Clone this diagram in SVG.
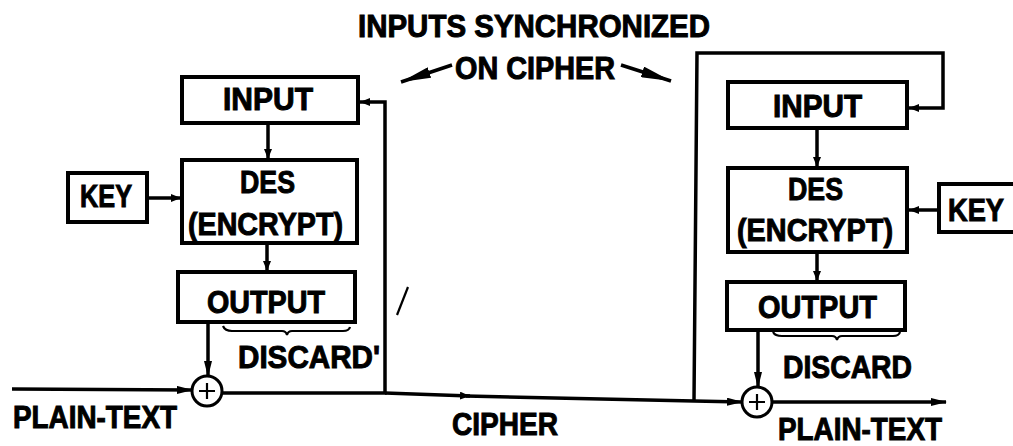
<svg xmlns="http://www.w3.org/2000/svg" width="1013" height="446" viewBox="0 0 1013 446">
<style>
.box{fill:#fff;stroke:#000;stroke-width:4}
.ln{fill:none;stroke:#000;stroke-width:3.5}
.thin{fill:none;stroke:#000;stroke-width:2.2}
.t{font-family:"Liberation Sans",Arial,sans-serif;font-weight:bold;font-size:32px;fill:#000;stroke:#000;stroke-width:1}
</style>
<defs>
<marker id="ah" viewBox="0 0 16 8" refX="15" refY="4" markerWidth="16" markerHeight="8" markerUnits="userSpaceOnUse" orient="auto"><path d="M0,0 L16,4 L0,8 Z" fill="#000"/></marker>
<marker id="as" viewBox="0 0 10 8" refX="10" refY="4" markerWidth="10" markerHeight="8" markerUnits="userSpaceOnUse" orient="auto"><path d="M0,0 L10,4 L0,8 Z" fill="#000"/></marker>
<marker id="al" viewBox="0 0 30 11" refX="30" refY="5.5" markerWidth="30" markerHeight="11" markerUnits="userSpaceOnUse" orient="auto"><path d="M0,0 L30,5.5 L0,11 Z" fill="#000"/></marker>
</defs>

<g id="label-sync">
<text class="t" x="358" y="37" textLength="352" lengthAdjust="spacingAndGlyphs">INPUTS SYNCHRONIZED</text>
<text class="t" x="455" y="79" textLength="160" lengthAdjust="spacingAndGlyphs">ON CIPHER</text>
<line class="ln" x1="452" y1="65" x2="401" y2="82" marker-end="url(#al)"/>
<line class="ln" x1="621" y1="65" x2="671" y2="81" marker-end="url(#al)"/>
</g>

<g id="connectors">
<line class="ln" x1="147" y1="198" x2="181" y2="198" marker-end="url(#as)"/>
<line class="ln" x1="268" y1="123" x2="268" y2="159" marker-end="url(#as)"/>
<line class="ln" x1="267" y1="243" x2="267" y2="271" marker-end="url(#as)"/>
<line class="ln" x1="208" y1="322" x2="208" y2="376" marker-end="url(#ah)"/>
<line class="ln" x1="12" y1="389" x2="192" y2="390" marker-end="url(#ah)"/>
<path class="ln" d="M222,393 L385,393 L385,102 L360,102" marker-end="url(#as)"/>
<path class="ln" d="M385,393 L470,396" marker-end="url(#as)"/>
<path class="ln" d="M466,396 L694,401 L742,402" marker-end="url(#ah)"/>
<path class="ln" d="M694,401 L697,53 L943,53 L943,108 L909,108" marker-end="url(#as)"/>
<line class="ln" x1="938" y1="210" x2="909" y2="210" marker-end="url(#as)"/>
<line class="ln" x1="817" y1="128" x2="817" y2="167" marker-end="url(#as)"/>
<line class="ln" x1="817" y1="252" x2="817" y2="281" marker-end="url(#as)"/>
<line class="ln" x1="758" y1="330" x2="758" y2="387" marker-end="url(#ah)"/>
<line class="ln" x1="772" y1="402" x2="946" y2="402" marker-end="url(#ah)"/>
<line class="thin" x1="408" y1="287" x2="397" y2="315"/>
</g>

<g id="left-input"><rect class="box" x="182" y="77" width="176" height="46"/><text class="t" x="223" y="110" textLength="90" lengthAdjust="spacingAndGlyphs">INPUT</text></g>
<g id="left-des"><rect class="box" x="182" y="160" width="175" height="83"/><text class="t" x="240" y="193" textLength="55" lengthAdjust="spacingAndGlyphs">DES</text><text class="t" x="188" y="235" textLength="155" lengthAdjust="spacingAndGlyphs">(ENCRYPT)</text></g>
<g id="left-key"><rect class="box" x="68" y="173" width="79" height="49"/><text class="t" x="80" y="207" textLength="52" lengthAdjust="spacingAndGlyphs">KEY</text></g>
<g id="left-output"><rect class="box" x="178" y="272" width="177" height="50"/><text class="t" x="207" y="313" textLength="118" lengthAdjust="spacingAndGlyphs">OUTPUT</text></g>
<g id="left-discard"><path class="thin" d="M223,326 Q225,331 232,331 L282,331 Q286,331 287,335 Q288,331 292,331 L343,331 Q349,331 350,327"/><text class="t" x="238" y="368" textLength="142" lengthAdjust="spacingAndGlyphs">DISCARD'</text></g>
<g id="left-xor"><circle cx="207" cy="391" r="15" fill="#fff" stroke="#000" stroke-width="3"/><path class="thin" d="M207,383 V399 M199,391 H215" stroke-width="3"/></g>
<g id="left-plain"><text class="t" x="13" y="428" textLength="164" lengthAdjust="spacingAndGlyphs">PLAIN-TEXT</text></g>

<g id="cipher-label"><text class="t" x="452" y="435" textLength="106" lengthAdjust="spacingAndGlyphs">CIPHER</text></g>

<g id="right-input"><rect class="box" x="728" y="82" width="179" height="46"/><text class="t" x="773" y="117" textLength="89" lengthAdjust="spacingAndGlyphs">INPUT</text></g>
<g id="right-des"><rect class="box" x="728" y="168" width="179" height="84"/><text class="t" x="788" y="200" textLength="55" lengthAdjust="spacingAndGlyphs">DES</text><text class="t" x="737" y="241" textLength="156" lengthAdjust="spacingAndGlyphs">(ENCRYPT)</text></g>
<g id="right-key"><rect class="box" x="939" y="184" width="90" height="48"/><text class="t" x="948" y="221" textLength="56" lengthAdjust="spacingAndGlyphs">KEY</text></g>
<g id="right-output"><rect class="box" x="727" y="282" width="178" height="48"/><text class="t" x="758" y="318" textLength="119" lengthAdjust="spacingAndGlyphs">OUTPUT</text></g>
<g id="right-discard"><path class="thin" d="M773,332 Q775,336 782,336 L832,336 Q836,336 837,340 Q838,336 842,336 L893,336 Q899,336 900,332"/><text class="t" x="783" y="378" textLength="129" lengthAdjust="spacingAndGlyphs">DISCARD</text></g>
<g id="right-xor"><circle cx="757" cy="402" r="15" fill="#fff" stroke="#000" stroke-width="3"/><path class="thin" d="M757,394 V410 M749,402 H765" stroke-width="3"/></g>
<g id="right-plain"><text class="t" x="778" y="440" textLength="164" lengthAdjust="spacingAndGlyphs">PLAIN-TEXT</text></g>
</svg>
